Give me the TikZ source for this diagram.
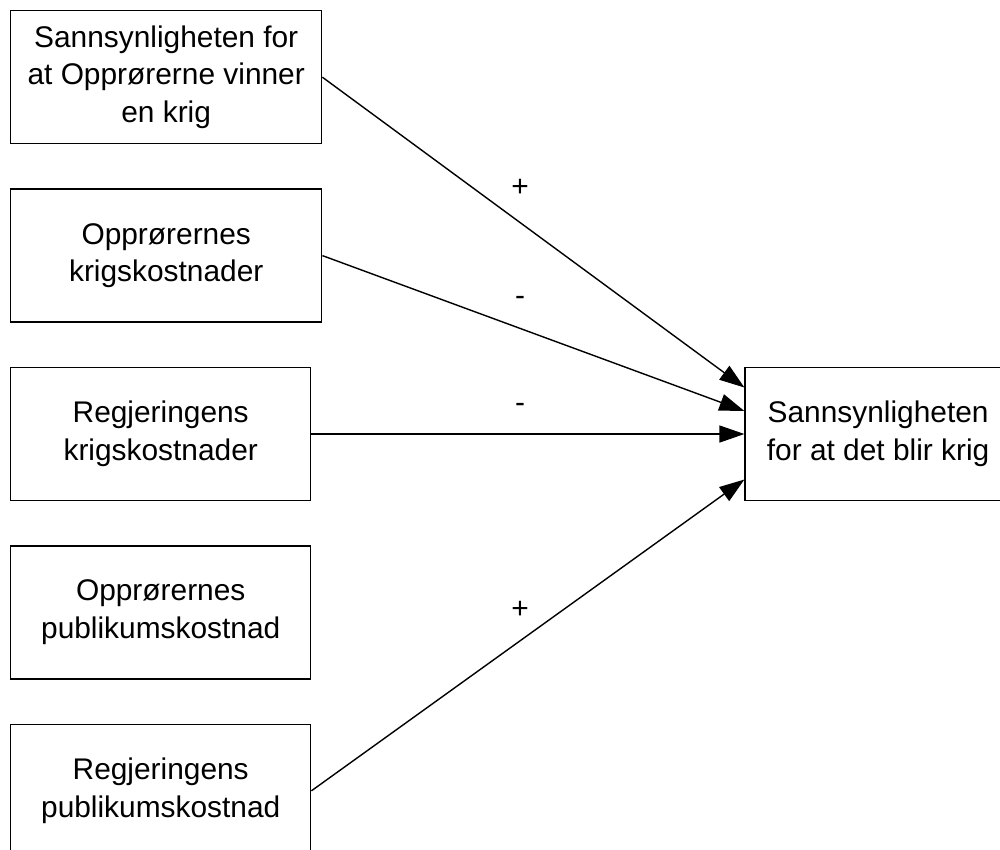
\documentclass[tikz,border=0pt]{standalone}
\usepackage{fontspec}
\setmainfont{Liberation Sans}
\usepackage{tikz}
\usetikzlibrary{arrows.meta,positioning,calc}
\tikzset{
  box/.style={draw=black, fill=white, line width=0.8pt, align=center,
              inner sep=4pt, minimum height=26.6mm, minimum width=60mm,
              font=\fontsize{17}{21.5}\selectfont},
  flow/.style={-{Triangle[length=5mm,width=3.4mm]}, line width=0.8pt, black},
  tag/.style={font=\fontsize{17}{21.5}\selectfont, inner sep=0pt},
}

\begin{document}
\begin{tikzpicture}[node distance=8.8mm and 86.6mm]
    \useasboundingbox (0,0) rectangle (20,-17);
    \clip (0,0) rectangle (20,-17);
    \node[box, minimum width=62.2mm, anchor=north west] (a) at (0.2,-0.2)
      {Sannsynligheten for\\at Opprørerne vinner\\en krig};
    \node[box, minimum width=62.2mm, below=of a.south west, anchor=north west] (b)
      {Opprørernes\\krigskostnader};
    \node[box, below=of b.south west, anchor=north west] (c)
      {Regjeringens\\krigskostnader};
    \node[box, below=of c.south west, anchor=north west] (d)
      {Opprørernes\\publikumskostnad};
    \node[box, below=of d.south west, anchor=north west] (e)
      {Regjeringens\\publikumskostnad};
    \node[box, minimum width=53.2mm, right=of c] (k)
      {Sannsynligheten\\for at det blir krig};
    % arrow end points on the target box
    \coordinate (k1) at ($(k.west)+(0,0.93)$);
    \coordinate (k2) at ($(k.west)+(0,0.46)$);
    \coordinate (k4) at ($(k.west)+(0,-0.91)$);
    \draw[flow] (a.east) -- (k1);
    \draw[flow] (b.east) -- (k2);
    \draw[flow] (c.east) -- (k.west);
    \draw[flow] (e.east) -- (k4);
    \node[tag] (s1) at (10.4,-3.76) {+};
    \node[tag] (s2) at (10.4,-6.02) {-};
    \node[tag] (s3) at (10.4,-8.16) {-};
    \node[tag] (s4) at (10.4,-12.2) {+};
  \end{tikzpicture}
\end{document}
